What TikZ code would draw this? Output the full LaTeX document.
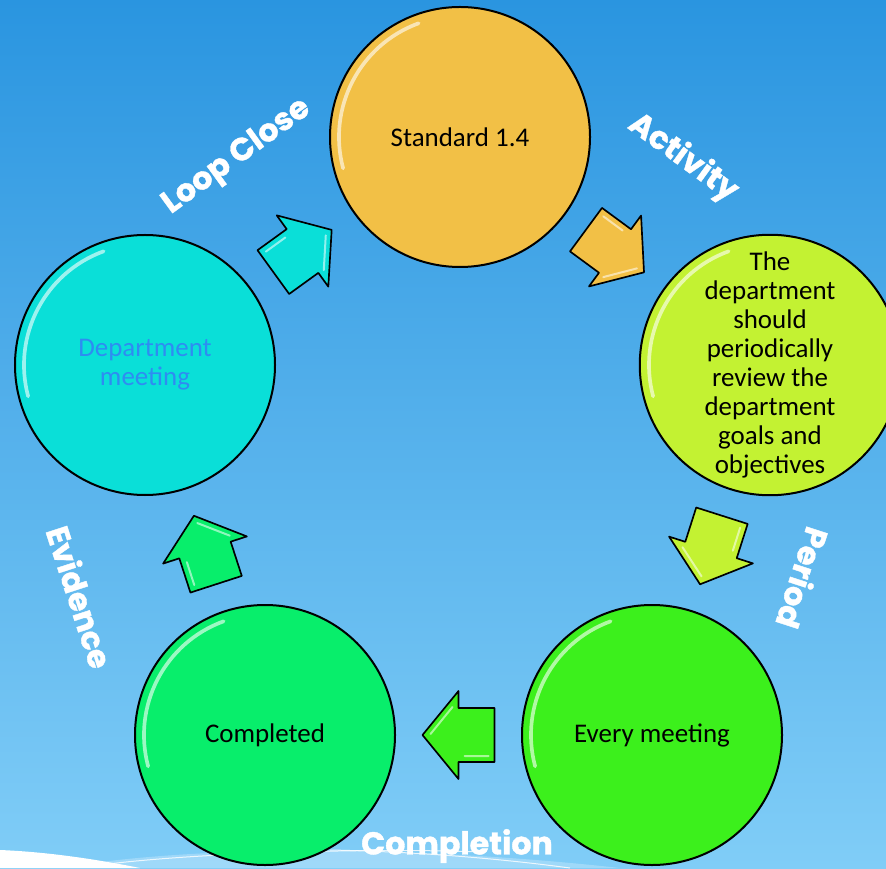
\documentclass[tikz,border=0pt]{standalone}
\usepackage{fontspec}
\setmainfont{Carlito}
\newfontfamily\tagfont[BoldFeatures={FakeBold=1.2}]{Poppins}
\usetikzlibrary{calc,positioning}
\definecolor{skytop}{HTML}{2A95E0}
\definecolor{skybot}{HTML}{80CDF7}
\definecolor{stdcol}{HTML}{F2C046}
\definecolor{deptcol}{HTML}{C3F232}
\definecolor{meetcol}{HTML}{3CF01C}
\definecolor{donecol}{HTML}{08EE6B}
\definecolor{loopcol}{HTML}{0ADFD8}
\definecolor{deptblue}{HTML}{2E8CF2}

\tikzset{
  bubble/.style={circle, draw=black, line width=0.6mm, minimum size=78mm,
    inner sep=0pt, align=center, font=\fontsize{23}{24.7}\selectfont},
  steplabel/.style={font=\tagfont\bfseries\fontsize{27}{30}\selectfont, text=white, inner sep=0pt},
  gloss/.style={white, opacity=0.6, line width=1.1mm, line cap=round},
  pics/blockarrow/.style={code={
    \draw[black, line width=0.5mm, fill=#1, line join=round]
      (36,0) -- (0,44) -- (0,27) -- (-36,27) -- (-36,-27) -- (0,-27) -- (0,-44) -- cycle;
    \draw[white, opacity=0.55, line width=0.6mm, line cap=round] (-30,21) -- (-6,21) (28,-1) -- (6,-28);
  }}
}

\begin{document}
\begin{tikzpicture}[x=0.3mm, y=0.3mm]
	\clip (0,0) rectangle (886,868);
	\shade[top color=skytop, bottom color=skybot] (0,0) rectangle (886,868);
	% swoosh at the bottom
	\fill[white, opacity=0.25] (60,0) .. controls (200,24) and (420,22) .. (620,0) -- cycle;
	\draw[white, opacity=0.8, line width=0.3mm] (100,3) .. controls (200,16) and (380,20) .. (480,16);
	\draw[white, opacity=0.8, line width=0.3mm] (330,18) .. controls (430,16) and (510,8) .. (570,0);
	\fill[white] (0,0) -- (0,18) .. controls (50,16) and (100,8) .. (140,0) -- cycle;

	% circles
	\node[bubble, fill=stdcol] (std) at (460,731) {Standard 1.4};
	\node[bubble, fill=deptcol] (dept) at (770,503)
	  {The\\department\\should\\periodically\\review the\\department\\goals and\\objectives};
	\node[bubble, fill=meetcol] (meet) at (652,133) {Every meeting};
	\node[bubble, fill=donecol] (done) at (265,133) {Completed};
	\node[bubble, fill=loopcol, text=deptblue] (loop) at (145,503) {Department\\meeting};

	\foreach \n in {std,dept,meet,done,loop}
	  \draw[gloss] ($(\n)+(110:121)$) arc[start angle=110, end angle=195, radius=121];

	% arrows between the circles
	\foreach \a/\b/\c in {loop/std/loopcol, std/dept/stdcol, dept/meet/deptcol, meet/done/meetcol, done/loop/donecol}
	  \path let \p1=($(\b)-(\a)$), \n1={atan2(\y1,\x1)} in
	    pic[rotate=\n1] at ($(\a)!0.5!(\b)$) {blockarrow=\c};

	% labels
	\foreach \x/\y/\r/\t/\m in {237/711/36/Loop Close/tagloop, 683/710/-36/Activity/tagact,
	    803/290/-108/Period/tagper, 457/22/0/Completion/tagcom, 80/271/-72/Evidence/tagevi}
	  \node[steplabel, rotate=\r] (\m) at (\x,\y) {\t};
\end{tikzpicture}
\end{document}
